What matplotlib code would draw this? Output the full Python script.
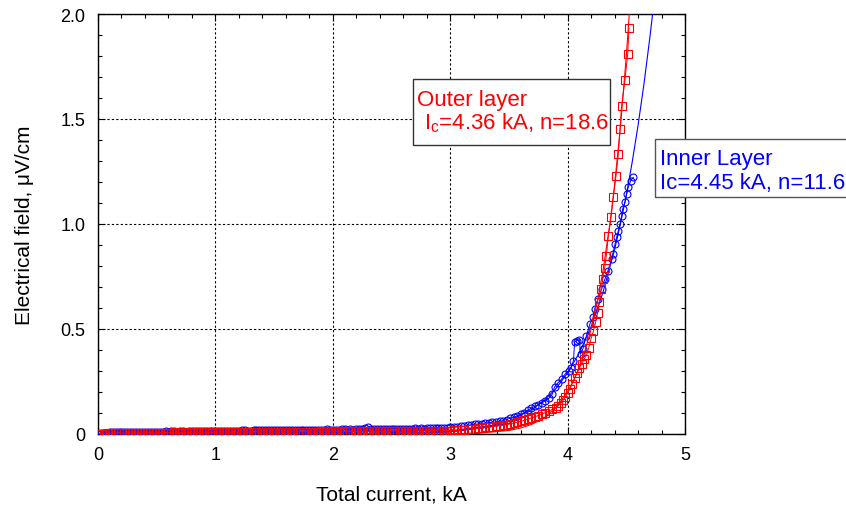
import matplotlib
matplotlib.use("Agg")
from matplotlib import pyplot as plt
from matplotlib.patches import Rectangle

plt.rcParams['font.family'] = ['Liberation Sans', 'DejaVu Sans']
plt.rcParams['mathtext.fontset'] = 'custom'
plt.rcParams['mathtext.rm'] = 'Liberation Sans'
plt.rcParams['mathtext.it'] = 'Liberation Sans:italic'

# ---- data ----
# currents of the slow ramp part, shared by both layers (kA)
ramp_i = [0.000, 0.025, 0.050, 0.075, 0.100, 0.125, 0.150, 0.175, 0.200, 0.225,
          0.250, 0.275, 0.300, 0.325, 0.350, 0.375, 0.400, 0.425, 0.450, 0.475,
          0.500, 0.525, 0.550, 0.575, 0.600, 0.625, 0.650, 0.675, 0.700, 0.725,
          0.750, 0.775, 0.800, 0.825, 0.850, 0.875, 0.900, 0.925, 0.950, 0.975,
          1.000, 1.025, 1.050, 1.075, 1.100, 1.125, 1.150, 1.175, 1.200, 1.225,
          1.250, 1.275, 1.300, 1.325, 1.350, 1.375, 1.400, 1.425, 1.450, 1.475,
          1.500, 1.525, 1.550, 1.575, 1.600, 1.625, 1.650, 1.675, 1.700, 1.725,
          1.750, 1.775, 1.800, 1.825, 1.850, 1.875, 1.900, 1.925, 1.950, 1.975,
          2.000, 2.025, 2.050, 2.075, 2.100, 2.125, 2.150, 2.175, 2.200, 2.225,
          2.250, 2.275, 2.300, 2.325, 2.350, 2.375, 2.400, 2.425, 2.450, 2.475,
          2.500, 2.525, 2.550, 2.575, 2.600, 2.625, 2.650, 2.675, 2.700, 2.725,
          2.750, 2.775, 2.800, 2.825, 2.850, 2.875, 2.900, 2.925, 2.950, 2.975,
          3.000]

# outer layer (red squares)
outer_i = ramp_i + [
    3.03, 3.06, 3.09, 3.12, 3.15, 3.18, 3.21, 3.24, 3.27,
    3.30, 3.33, 3.36, 3.39, 3.42, 3.45, 3.48, 3.51, 3.54, 3.57,
    3.60, 3.63, 3.66, 3.69, 3.72, 3.75, 3.78, 3.81, 3.84, 3.87,
    3.90, 3.92, 3.94, 3.96, 3.98, 4.00, 4.02, 4.04, 4.06, 4.08,
    4.10, 4.12, 4.14, 4.16, 4.18, 4.20, 4.22, 4.24, 4.255, 4.27,
    4.285, 4.30, 4.315, 4.33, 4.347, 4.37, 4.39, 4.412, 4.432, 4.446,
    4.46, 4.489, 4.512, 4.523]
outer_e = [0.000, 0.001, 0.002, 0.003, 0.003, 0.004, 0.004, 0.004, 0.005, 0.004,
           0.005, 0.005, 0.006, 0.005, 0.006, 0.005, 0.006, 0.006, 0.007, 0.006,
           0.006, 0.007, 0.007, 0.006, 0.007, 0.007, 0.008, 0.007, 0.007, 0.008,
           0.008, 0.007, 0.008, 0.008, 0.007, 0.008, 0.008, 0.009, 0.008, 0.007,
           0.008, 0.009, 0.008, 0.009, 0.009, 0.008, 0.009, 0.009, 0.008, 0.009,
           0.009, 0.010, 0.009, 0.009, 0.010, 0.009, 0.010, 0.010, 0.009, 0.010,
           0.010, 0.009, 0.010, 0.010, 0.011, 0.010, 0.010, 0.011, 0.010, 0.011,
           0.010, 0.011, 0.011, 0.010, 0.011, 0.011, 0.012, 0.011, 0.011, 0.012,
           0.011, 0.012, 0.012, 0.011, 0.012, 0.012, 0.013, 0.012, 0.012, 0.013,
           0.012, 0.013, 0.013, 0.012, 0.013, 0.013, 0.014, 0.013, 0.013, 0.014,
           0.013, 0.014, 0.014, 0.013, 0.014, 0.014, 0.015, 0.014, 0.015, 0.015,
           0.014, 0.015, 0.015, 0.016, 0.015, 0.016, 0.016, 0.015, 0.016, 0.016,
           0.016,
           0.017, 0.018, 0.019, 0.020, 0.022, 0.023, 0.025, 0.027, 0.029,
           0.031, 0.033, 0.035, 0.037, 0.040, 0.042, 0.045, 0.048, 0.052, 0.056,
           0.060, 0.065, 0.070, 0.076, 0.082, 0.088, 0.095, 0.102, 0.109, 0.117,
           0.125, 0.135, 0.146, 0.160, 0.175, 0.195, 0.215, 0.240, 0.265, 0.290,
           0.315, 0.335, 0.355, 0.375, 0.410, 0.455, 0.490, 0.535, 0.575, 0.630,
           0.690, 0.740, 0.790, 0.850, 0.944, 1.033, 1.129, 1.229, 1.333, 1.452,
           1.563, 1.687, 1.810, 1.933]

# inner layer (blue circles)
inner_i = ramp_i + [
    3.03, 3.06, 3.09, 3.12, 3.15, 3.18, 3.21, 3.24, 3.27,
    3.30, 3.33, 3.36, 3.39, 3.42, 3.45, 3.48, 3.51, 3.54, 3.57,
    3.60, 3.63, 3.66, 3.69, 3.72, 3.75, 3.78, 3.81, 3.84, 3.87,
    3.89, 3.92, 3.95, 3.98, 4.01, 4.03, 4.05, 4.06, 4.08, 4.10,
    4.11, 4.13, 4.16, 4.19, 4.218, 4.23, 4.26, 4.29, 4.318, 4.344,
    4.375, 4.384, 4.404, 4.418, 4.432, 4.446, 4.46, 4.469, 4.489, 4.503,
    4.517, 4.537, 4.56]
inner_e = [0.000, 0.003, 0.005, 0.007, 0.009, 0.010, 0.010, 0.009, 0.009, 0.008,
           0.008, 0.009, 0.008, 0.009, 0.009, 0.010, 0.010, 0.009, 0.010, 0.011,
           0.010, 0.011, 0.011, 0.012, 0.011, 0.012, 0.012, 0.011, 0.012, 0.013,
           0.011, 0.012, 0.013, 0.012, 0.013, 0.013, 0.012, 0.014, 0.013, 0.014,
           0.014, 0.013, 0.014, 0.015, 0.015, 0.014, 0.016, 0.015, 0.016, 0.017,
           0.017, 0.016, 0.016, 0.017, 0.018, 0.017, 0.017, 0.018, 0.018, 0.017,
           0.019, 0.018, 0.018, 0.019, 0.019, 0.020, 0.019, 0.018, 0.019, 0.020,
           0.020, 0.019, 0.019, 0.020, 0.021, 0.020, 0.020, 0.021, 0.022, 0.021,
           0.021, 0.020, 0.021, 0.022, 0.022, 0.021, 0.022, 0.021, 0.023, 0.022,
           0.022, 0.028, 0.034, 0.026, 0.022, 0.023, 0.024, 0.023, 0.024, 0.023,
           0.025, 0.024, 0.025, 0.024, 0.026, 0.025, 0.026, 0.025, 0.027, 0.026,
           0.027, 0.026, 0.028, 0.027, 0.028, 0.027, 0.029, 0.030, 0.029, 0.030,
           0.031,
           0.032, 0.034, 0.036, 0.038, 0.041, 0.044, 0.046, 0.048, 0.050,
           0.052, 0.054, 0.056, 0.057, 0.060, 0.064, 0.069, 0.075, 0.080, 0.086,
           0.094, 0.102, 0.112, 0.124, 0.132, 0.140, 0.148, 0.158, 0.170, 0.190,
           0.225, 0.245, 0.262, 0.286, 0.300, 0.315, 0.350, 0.440, 0.445, 0.450,
           0.380, 0.405, 0.468, 0.524, 0.556, 0.595, 0.643, 0.690, 0.738, 0.778,
           0.833, 0.857, 0.905, 0.937, 0.968, 1.000, 1.040, 1.071, 1.103, 1.143,
           1.175, 1.206, 1.222]

# power-law fits, values
outer_fit_i = [0.0, 1.0, 2.0, 2.5, 3.0, 3.25, 3.5, 3.6, 3.7, 3.8, 3.9, 4.0, 4.05,
               4.1, 4.15, 4.2, 4.25, 4.3, 4.36, 4.4, 4.45, 4.5, 4.53]
outer_fit_e = [0.0, 0.0, 0.0, 0.00003, 0.00095, 0.0042, 0.0168, 0.0283, 0.0473,
               0.0775, 0.1257, 0.2013, 0.254, 0.3186, 0.40, 0.499, 0.622, 0.772,
               1.0, 1.185, 1.462, 1.80, 2.037]
inner_fit_i = [0.0, 1.0, 2.0, 2.5, 3.0, 3.3, 3.5, 3.7, 3.8, 3.9, 4.0, 4.1, 4.2,
               4.3, 4.4, 4.45, 4.5, 4.55, 4.6, 4.65, 4.7, 4.73]
inner_fit_e = [0.0, 0.0, 0.0001, 0.0012, 0.0103, 0.0312, 0.0617, 0.1177, 0.160,
               0.216, 0.2905, 0.387, 0.511, 0.672, 0.877, 1.0, 1.138, 1.294,
               1.469, 1.665, 1.885, 2.029]

x_ticks = [0, 1, 2, 3, 4, 5]
y_ticks = [0, 0.5, 1.0, 1.5, 2.0]
y_labels = ["0", "0.5", "1.0", "1.5", "2.0"]

# ---- figure ----
fig = plt.figure(figsize=(8.46, 5.10), dpi=100)
ax = fig.add_axes([98 / 846, 1 - 435 / 510, 587 / 846, 420 / 510])

ax.plot(inner_fit_i, inner_fit_e, color='#0000ff', lw=0.8, zorder=3)
ax.plot(inner_i, inner_e, color='#0000ff', lw=0.7, marker='o', ms=5,
        mfc='none', mew=0.8, zorder=3)
ax.plot(outer_fit_i, outer_fit_e, color='#ff0000', lw=0.8, zorder=4)
ax.plot(outer_i, outer_e, color='#ff0000', lw=0.7, marker='s', ms=5.3,
        mfc='none', mew=0.8, zorder=4)

ax.set_xlim(0, 5)
ax.set_ylim(0, 2)
ax.set_xticks(x_ticks)
ax.set_xticklabels([str(v) for v in x_ticks])
ax.set_yticks(y_ticks)
ax.set_yticklabels(y_labels)
ax.set_xticks([k * 0.2 for k in range(26)], minor=True)
ax.set_yticks([k * 0.1 for k in range(21)], minor=True)
ax.tick_params(which='both', direction='in', top=True, right=True,
               labelsize=13, pad=9, color='black')
ax.tick_params(which='major', length=5, width=0.8)
ax.tick_params(which='minor', length=3, width=0.8)
ax.grid(True, which='major', color='black', linestyle=(0, (2, 2)), lw=0.8)
for s in ax.spines.values():
    s.set_linewidth(1.0)

ax.set_xlabel("Total current, kA", fontsize=15, labelpad=15)
ax.set_ylabel("Electrical field, \u03bcV/cm", fontsize=15, labelpad=19)

# annotation boxes
def px(x, y):
    return x / 846, 1 - y / 510

r = Rectangle(px(412.7, 146), (610 - 412.7) / 846, 66 / 510,
              transform=fig.transFigure, facecolor='white',
              edgecolor='#333333', lw=1.0, zorder=10)
fig.patches.append(r)
fig.text(*px(417, 106), "Outer layer", color='#ff0000', fontsize=16,
         va='baseline', ha='left', zorder=11)
fig.text(*px(424, 129.5), r"I$_{\rm c}$=4.36 kA, n=18.6", color='#ff0000',
         fontsize=16, va='baseline', ha='left', zorder=11)

b = Rectangle(px(655, 198), 200 / 846, 58 / 510,
              transform=fig.transFigure, facecolor='white',
              edgecolor='#555555', lw=1.0, zorder=10)
fig.patches.append(b)
fig.text(*px(660, 165), "Inner Layer", color='#0000ff', fontsize=16,
         va='baseline', ha='left', zorder=11)
fig.text(*px(660, 188.5), "Ic=4.45 kA, n=11.6", color='#0000ff',
         fontsize=16, va='baseline', ha='left', zorder=11)

fig.savefig("out.png", dpi=100)
